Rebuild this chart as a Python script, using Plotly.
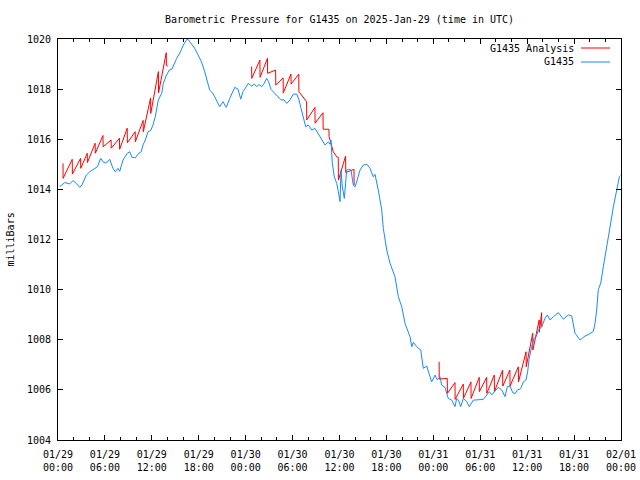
import pandas as pd
import plotly.graph_objects as go

START = pd.Timestamp("2025-01-29 00:00")

# G1435 observations: hours since 2025-01-29 00:00 UTC, pressure (mb)
obs_hours = [0.22, 0.86, 1.50, 1.92, 2.34, 2.78, 3.07, 3.62, 4.05, 4.48, 5.03, 5.46, 5.76, 6.18, 6.61,
             7.03, 7.33, 7.67, 7.89, 8.31, 8.86, 9.17, 9.46, 9.89, 10.32, 10.65, 10.87, 11.17, 11.51,
             11.86, 12.15, 12.44, 12.83, 13.26, 13.47, 13.81, 14.23, 14.54, 14.96, 15.18, 15.60, 16.03,
             16.46, 16.63, 17.48, 18.33, 18.76, 19.40, 19.82, 20.68, 21.10, 21.52, 21.96, 22.60, 23.02,
             23.37, 23.66, 23.92, 24.34, 24.77, 25.11, 25.41, 25.71, 26.05, 26.38, 26.69, 26.92, 27.24,
             27.75, 28.17, 28.52, 28.90, 29.25, 29.67, 30.09, 30.53, 30.82, 31.08, 31.37, 31.68, 32.01,
             32.45, 32.87, 33.21, 33.73, 34.15, 34.57, 34.79, 34.91, 35.08, 35.34, 35.64, 35.85, 36.07,
             36.19, 36.36, 36.62, 36.92, 37.12, 37.47, 37.77, 37.98, 38.20, 38.62, 39.05, 39.48, 39.90,
             40.32, 40.54, 40.76, 40.96, 41.18, 41.40, 41.60, 42.04, 42.46, 43.10, 43.52, 43.96, 44.38,
             45.02, 45.24, 45.44, 45.88, 46.39, 46.72, 47.15, 47.79, 48.22, 48.51, 48.86, 49.07, 49.49,
             49.71, 49.91, 50.35, 50.77, 50.99, 51.22, 51.50, 51.84, 52.27, 52.60, 53.11, 53.97, 54.39,
             54.83, 55.16, 55.47, 55.89, 56.31, 56.74, 57.17, 57.46, 57.81, 58.15, 58.45, 58.74, 59.17,
             59.51, 59.84, 60.06, 60.26, 60.57, 60.86, 61.12, 61.43, 61.86, 62.28, 62.58, 62.92, 63.35,
             63.99, 64.63, 65.26, 65.70, 66.12, 66.76, 67.40, 67.78, 68.25, 68.46, 68.68, 68.89, 69.10,
             69.41, 69.74, 70.17, 70.60, 71.02, 71.37, 71.79, 71.92]
obs_values = [1014.11, 1014.27, 1014.22, 1014.35, 1014.24, 1014.08, 1014.18, 1014.57, 1014.70, 1014.80,
              1014.90, 1015.24, 1015.10, 1015.05, 1015.20, 1014.84, 1014.70, 1014.84, 1014.72, 1015.17,
              1015.44, 1015.50, 1015.28, 1015.26, 1015.44, 1015.50, 1015.77, 1015.97, 1016.30, 1016.35,
              1016.57, 1016.90, 1017.57, 1017.83, 1018.23, 1018.52, 1018.76, 1018.78, 1019.10, 1019.23,
              1019.45, 1019.76, 1019.98, 1019.98, 1019.63, 1019.10, 1018.70, 1017.96, 1017.83, 1017.30,
              1017.50, 1017.27, 1017.63, 1018.07, 1018.00, 1017.60, 1017.90, 1018.03, 1018.23, 1018.12,
              1018.20, 1018.10, 1018.18, 1018.10, 1018.23, 1018.43, 1018.30, 1017.99, 1017.83, 1017.70,
              1017.57, 1017.57, 1017.43, 1017.57, 1017.80, 1017.80, 1017.57, 1017.23, 1016.90, 1016.50,
              1016.57, 1016.37, 1016.43, 1016.24, 1015.97, 1015.77, 1015.90, 1015.80, 1015.97, 1015.04,
              1014.50, 1014.24, 1013.91, 1013.51, 1014.77, 1014.10, 1013.64, 1014.77, 1014.80, 1014.77,
              1014.17, 1014.10, 1014.30, 1014.77, 1014.97, 1015.01, 1014.84, 1014.50, 1014.60, 1014.30,
              1013.97, 1013.58, 1013.18, 1012.45, 1011.58, 1011.05, 1010.51, 1009.72, 1009.32, 1008.65,
              1008.12, 1007.72, 1007.90, 1007.72, 1007.59, 1006.86, 1006.95, 1006.32, 1006.59, 1006.40,
              1006.52, 1006.19, 1006.10, 1005.86, 1005.66, 1005.59, 1005.33, 1005.66, 1005.59, 1005.33,
              1005.66, 1005.53, 1005.33, 1005.59, 1005.59, 1005.62, 1005.79, 1005.93, 1005.80, 1005.93,
              1006.10, 1006.00, 1005.73, 1006.13, 1006.15, 1005.89, 1005.85, 1005.99, 1006.05, 1006.32,
              1006.39, 1006.72, 1007.25, 1007.72, 1008.05, 1008.10, 1008.39, 1008.52, 1008.85, 1008.99,
              1008.79, 1008.92, 1009.08, 1008.82, 1008.99, 1008.95, 1008.26, 1007.99, 1008.15, 1008.20,
              1008.28, 1008.33, 1008.66, 1009.19, 1010.00, 1010.26, 1010.92, 1011.80, 1012.50, 1013.30,
              1013.90, 1014.50, 1014.55]

# G1435 Analysis (None = gap)
ana_hours = [0.64, 0.65, 1.82, 1.84, 2.89, 2.91, 3.74, 3.76, 4.75, 4.77, 5.75, 5.77, 6.79, 6.81,
             7.86, 7.88, 8.85, 8.87, 9.87, 9.89, 10.89, 10.91, 11.84, 11.86, 12.84, 12.86, 13.84, 13.86,
             14.05, None,
             24.76, 24.78, 25.82, 25.84, 26.79, 26.81, 27.83, 27.85, 28.79, 28.81, 29.79, 29.81,
             30.79, 30.81, 31.79, 31.81, 32.86, 32.88, 33.89, 33.91, 34.65, 34.67, 35.21, 35.64,
             35.84, 35.86, 36.78, 36.80, 37.85, 37.87, None,
             48.74, 48.76, 49.78, 49.80, 50.77, 50.79, 51.83, 51.85, 52.81, 52.83, 53.87, 53.89,
             54.82, 54.84, 55.79, 55.81, 56.86, 56.88, 57.79, 57.81, 58.87, 58.89, 59.86, 59.88,
             60.71, 60.73, 61.54, 61.56, 61.85, 61.87]
ana_values = [1015.04, 1014.44, 1015.20, 1014.61, 1015.24, 1014.84, 1015.44, 1015.07, 1015.84, 1015.44,
              1016.15, 1015.70, 1015.97, 1015.64, 1016.04, 1015.60, 1016.44, 1015.86, 1016.30, 1015.90,
              1016.75, 1016.30, 1017.65, 1017.03, 1018.70, 1017.85, 1019.45, 1018.95, 1018.92, None,
              1018.90, 1018.43, 1019.16, 1018.47, 1019.23, 1018.63, 1018.76, 1018.16, 1018.45, 1017.85,
              1018.60, 1018.20, 1018.60, 1017.90, 1017.50, 1016.77, 1017.27, 1016.64, 1017.06, 1016.40,
              1016.40, 1016.10, 1015.50, 1015.30, 1015.28, 1014.37, 1015.33, 1014.67, 1014.80, 1014.17, None,
              1007.12, 1006.43, 1006.46, 1005.86, 1006.29, 1005.62, 1006.23, 1005.66, 1006.32, 1005.66,
              1006.50, 1005.93, 1006.50, 1005.86, 1006.59, 1005.93, 1006.79, 1006.15, 1006.79, 1006.15,
              1006.92, 1006.32, 1007.52, 1006.92, 1008.26, 1007.59, 1008.79, 1008.30, 1009.08, 1008.50]

TITLE = "Barometric Pressure for G1435 on 2025-Jan-29 (time in UTC)"
Y_LABEL = "milliBars"
SERIES_NAMES = ["G1435 Analysis", "G1435"]
COLORS = ["#ff0000", "#1a88ff"]
FONT = "DejaVu Sans Mono"


def to_time(hours):
    return [START + pd.Timedelta(hours=h) if h is not None else None for h in hours]


fig = go.Figure()
fig.add_trace(go.Scatter(x=to_time(ana_hours), y=ana_values, mode="lines",
                         line=dict(color=COLORS[0], width=1), name=SERIES_NAMES[0],
                         connectgaps=False))
fig.add_trace(go.Scatter(x=to_time(obs_hours), y=obs_values, mode="lines",
                         line=dict(color=COLORS[1], width=1), name=SERIES_NAMES[1]))

L, R, T, B = 58, 19, 39, 40
W, H = 640, 480
pw, ph = W - L - R, H - T - B

axis_common = dict(showline=True, linecolor="black", linewidth=1, mirror="allticks",
                   ticks="inside", tickcolor="black", showgrid=False, zeroline=False,
                   automargin=False,
                   tickfont=dict(family=FONT, size=10, color="black"))

fig.update_layout(
    width=W, height=H, autosize=False,
    margin=dict(l=L, r=R, t=T, b=B, pad=0),
    paper_bgcolor="white", plot_bgcolor="white",
    showlegend=False,
    font=dict(family=FONT, size=10, color="black"),
    title=dict(text=TITLE, x=(L + pw / 2) / W, xanchor="center", y=1 - 19 / H, yanchor="middle",
               font=dict(family=FONT, size=10, color="black")),
    xaxis=dict(**axis_common, type="date",
               range=[START, START + pd.Timedelta(hours=72)],
               dtick=6 * 3600 * 1000, tick0=START, tickformat="%m/%d<br>%H:%M",
               ticklen=5, ticklabelstandoff=5,
               minor=dict(ticks="inside", dtick=2 * 3600 * 1000, ticklen=3, tickcolor="black",
                          showgrid=False)),
    yaxis=dict(**axis_common, range=[1004, 1020], dtick=2, tick0=1004, ticklen=5,
               ticklabelstandoff=4),
)

# y-axis title
fig.add_annotation(text=Y_LABEL, xref="paper", yref="paper", x=(10 - L) / pw, y=0.5,
                   textangle=-90, showarrow=False, xanchor="center", yanchor="middle",
                   font=dict(family=FONT, size=10, color="black"))

# gnuplot-style key (text, then line sample on the right)
key_rows_px = [48, 62]
for name, color, ypx in zip(SERIES_NAMES, COLORS, key_rows_px):
    yp = (H - B - ypx) / ph
    fig.add_annotation(text=name, xref="paper", yref="paper", x=(576 - L) / pw, y=yp,
                       showarrow=False, xanchor="right", yanchor="middle",
                       font=dict(family=FONT, size=10, color="black"))
    fig.add_shape(type="line", xref="paper", yref="paper", x0=(581 - L) / pw, x1=(610 - L) / pw,
                  y0=yp, y1=yp, line=dict(color=color, width=1))

# remove the page's default body margin so the 640x480 figure fills the window
fig.write_html("out.html", config={"displayModeBar": False},
               post_script="document.body.style.margin='0px';")
